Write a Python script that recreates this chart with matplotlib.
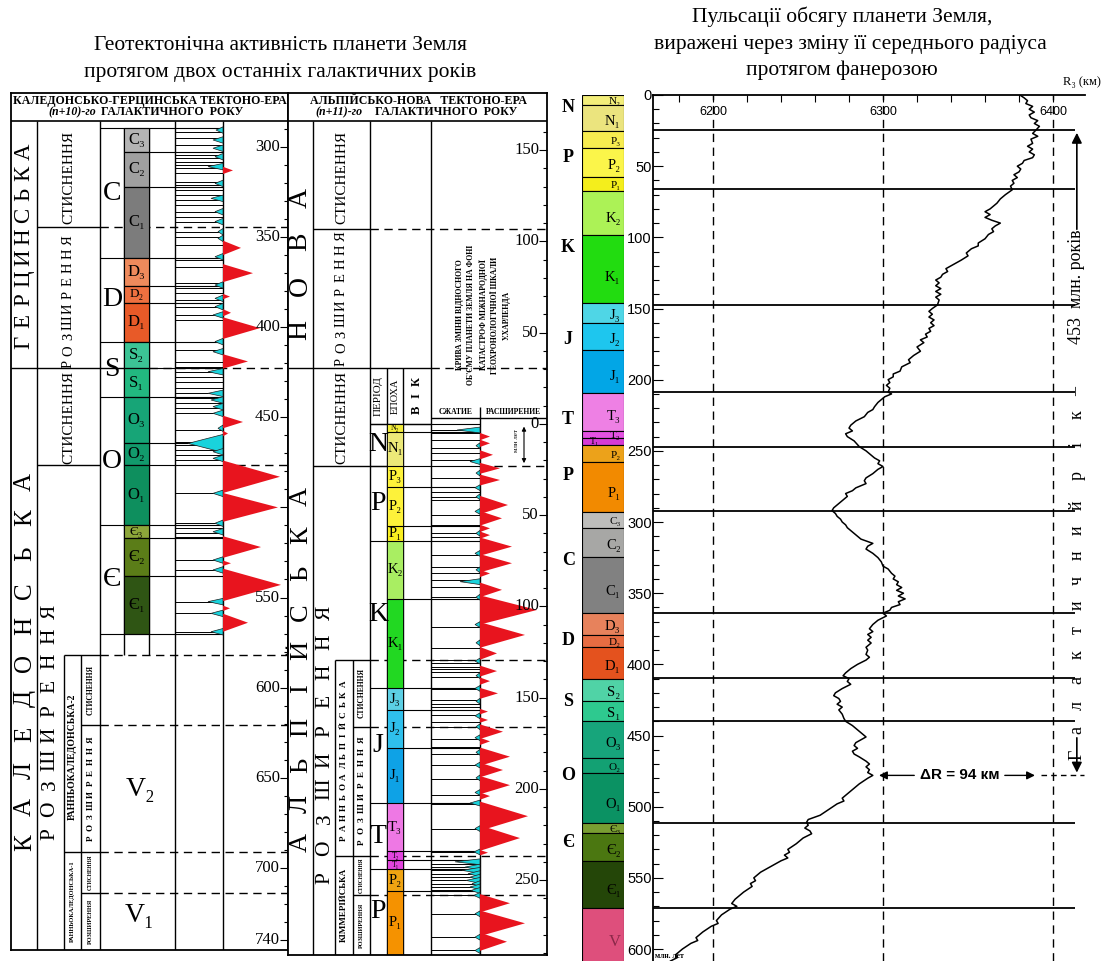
import numpy as np
import matplotlib
matplotlib.use('Agg')
import matplotlib.pyplot as plt

SERIF = ['Liberation Serif', 'DejaVu Serif']
SANS = ['Liberation Sans', 'DejaVu Sans']
plt.rcParams['font.family'] = SERIF

W, H = 1119, 961

# === Ліва таблиця: каледонсько-герцинська тектоно-ера (вік, млн років) ===
L_epochs = ['C₃', 'C₂', 'C₁', 'D₃', 'D₂', 'D₁', 'S₂', 'S₁', 'O₃', 'O₂', 'O₁', 'Є₃', 'Є₂', 'Є₁']
L_bounds = [289.4, 302.8, 322, 361.7, 377, 386.7, 408, 422.8, 439, 464, 476.7, 510, 517, 537.8, 570]
L_colors = ['#b4b4b4', '#a0a0a0', '#7c7c7c', '#ee8a5c', '#ee7040', '#e85a28', '#3cc495',
            '#22b880', '#17a577', '#129a6c', '#0e8f5e', '#8da63a', '#5b7d18', '#2f5514']
L_periods = ['C', 'D', 'S', 'O', 'Є']
L_period_bounds = [289.4, 361.7, 408, 439, 510, 570]
L_phase = [344.4, 422.6, 476.5, 581.9, 620.8, 691.2, 714]
L_tick_labels = [300, 350, 400, 450, 550, 600, 650, 700, 740]

L_red_age = [313, 356, 370, 383, 392, 400.5, 419, 452.6, 459, 483, 500, 522, 531, 543, 556, 564]
L_red_amp = [10, 18, 30, 7, 8, 37, 25, 20, 5, 57, 55, 38, 8, 58, 7, 25]
L_red_hw = [2, 4, 5, 1.5, 2, 6, 4, 3.5, 1.5, 9, 8, 6, 1.5, 9, 1.5, 5]

L_cyan_age = [290.6, 296.1, 300.7, 305.4, 310.9, 320.2, 328.5, 335.9, 341.4, 347,
              350.7, 360.9, 376.6, 384, 388.6, 393.2, 408, 413.6, 424.7, 436.7,
              440.4, 444.1, 447.8, 456.1, 464.5, 469.1, 472.8, 492.2, 508.8, 513.5,
              529.2, 534.7, 552.3, 558.8, 569]
L_cyan_amp = [7, 10, 10, 8, 15, 8, 12, 8, 8, 5, 5, 8, 8, 8, 8, 10, 8, 10, 15, 15,
              12, 10, 10, 5, 35, 10, 10, 10, 8, 10, 10, 10, 15, 12, 12]
L_cyan_hw = [1.8] * 24 + [5] + [1.8] * 10

L_stems = [291.5, 295.2, 298.9, 302.6, 304.4, 306.3, 308.1, 310, 311.8, 314.6, 319.2,
           321.1, 323.9, 326.6, 329.4, 332.2, 335.9, 338.7, 341.4, 347, 349.8, 354.4,
           362.7, 366.4, 375.6, 378.4, 381.2, 384.9, 388.6, 393.2, 396, 408, 412.7,
           419.1, 421.9, 424.7, 427.5, 430.2, 433.9, 436.7, 439.5, 442.2, 445, 447.8,
           457, 463.5, 465.4, 468.1, 470.9, 473.7, 492.2, 508.8, 511.6, 514.4, 516.3,
           529.2, 534.7, 552.3, 558.8, 569]

# === Середня таблиця: альпійсько-нова тектоно-ера (від'ємне = майбутнє) ===
M_epochs = ['N₂', 'N₁', 'P₃', 'P₂', 'P₁', 'K₂', 'K₁', 'J₃', 'J₂', 'J₁', 'T₃', 'T₂', 'T₁', 'P₂', 'P₁']
M_bounds = [0, 4.5, 23.1, 34.6, 56, 64.2, 96, 144.8, 156.8, 177.6, 207.8, 234.1, 239, 244, 256, 291]
M_colors = ['#f2ec3a', '#ece978', '#fdf23a', '#fdf23a', '#f9ee20', '#a9ee62', '#22d822',
            '#5ccfe4', '#2fc0ec', '#0ea2e6', '#ee78e4', '#e245de', '#e245de', '#f0a412', '#f59200']
M_periods = ['N', 'P', 'K', 'J', 'T', 'P']
M_period_bounds = [0, 23.1, 64.2, 144.8, 207.8, 244, 291]
M_phase = [-106.7, -30.6, 23.1, 129.4, 166.1, 236.8, 258.2]
M_ticks = [-150, -100, -50, 0, 50, 100, 150, 200, 250]

M_red_age = [7, 10.7, 17, 24.4, 30.8, 44.5, 51.8, 57.3, 61, 67.3, 76.4, 82, 91, 102, 115.7,
             125.8, 135.5, 141, 147.7, 157.7, 162.3, 168.7, 174, 182.4, 189.7, 198, 204,
             215, 227, 235, 262.7, 273.7, 283.8]
M_red_amp = [10, 10, 13, 20, 20, 28, 22, 10, 10, 32, 32, 10, 22, 57, 45, 17, 17, 10, 18,
             8, 8, 23, 10, 30, 23, 30, 10, 48, 40, 8, 30, 45, 27]
M_red_hw = [2, 2, 2.5, 3, 3, 5, 4, 2, 2, 5, 5, 2, 4, 8, 7, 3.5, 3, 2, 3, 1.5, 1.5, 4, 2,
            5, 4, 5, 2, 8, 7, 1.5, 5, 7, 5]

M_cyan_age = [3.4, 12, 20.7, 27, 35, 40, 48, 60, 71, 80, 86.5, 95, 110, 120, 130, 138, 145,
              152, 160, 166, 172, 180, 187, 194, 202, 207.8, 221.8, 234.6, 240, 242.9,
              244.7, 246.5, 248.4, 250.2, 252, 253.8, 255.7, 258.4, 268.5, 281.3, 288.6]
M_cyan_amp = [23, 4, 10, 4, 5, 4, 5, 4, 5, 4, 20, 4, 5, 4, 5, 4, 5, 4, 5, 4, 5, 4, 5, 4, 5,
              10, 5, 6, 25, 15, 18, 12, 10, 14, 8, 10, 9, 6, 5, 5, 5]
M_cyan_hw = [1.6] * len(M_cyan_age)

M_stems = [3.4, 5.2, 8.9, 13.4, 16.2, 19.8, 29.9, 34.5, 37.2, 39.9, 41.8, 50, 55.5, 60,
           61.8, 71.9, 78.3, 81.9, 85.6, 89.2, 94.7, 111.1, 123, 129.4, 131.2, 133, 134.1,
           135.8, 138.5, 145.1, 151.5, 153.3, 155.2, 159.7, 163.4, 166.1, 172.5, 177.1,
           180.7, 187.1, 194.4, 203.6, 208.1, 221.8, 234.6, 239.2, 241, 242.9, 244.7,
           246.5, 248.4, 250.2, 252, 253.8, 255.7, 258.4, 268.5, 281.3, 288.6]

# === Права частина: середній радіус Землі (км) у фанерозої ===
R_epochs = ['N₂', 'N₁', 'P₃', 'P₂', 'P₁', 'K₂', 'K₁', 'J₃', 'J₂', 'J₁', 'T₃', 'T₂', 'T₁',
            'P₂', 'P₁', 'C₃', 'C₂', 'C₁', 'D₃', 'D₂', 'D₁', 'S₂', 'S₁', 'O₃', 'O₂', 'O₁',
            'Є₃', 'Є₂', 'Є₁', 'V']
R_bounds = [0, 7, 25.3, 37.2, 57.6, 67.4, 98.4, 146, 160, 179, 209.4, 236, 241, 246, 258,
            293, 304, 324.6, 364, 379.4, 387.8, 410, 425.8, 439.8, 465.8, 476.4, 511.5,
            518.5, 538, 571.2, 610]
R_colors = ['#f3ee7a', '#ebe47e', '#f7ec50', '#fbf54a', '#f4ee1c', '#acf256', '#22dc10',
            '#4fd6e6', '#1ec6ee', '#02a6e6', '#ee80e4', '#e452e2', '#d63ad6', '#eca21a',
            '#f28a00', '#bdbdbb', '#a7a7a5', '#818181', '#e7825c', '#e76c42', '#e4521e',
            '#50d3a6', '#2ec98f', '#17a57b', '#13a173', '#0b9263', '#7a9e32', '#4b7711',
            '#244608', '#de4f7c']
R_periods = ['N', 'P', 'K', 'J', 'T', 'P', 'C', 'D', 'S', 'O', 'Є']
R_period_age = [9, 44, 107, 172, 228, 267, 327, 383, 426, 478, 525]
R_cycles = [24.6, 66.3, 147.5, 208.7, 247, 292, 364, 409.6, 440, 511.5, 571]

R_age = [0, 2, 4, 6, 8, 10, 12, 14, 16, 18, 20, 22, 24.6, 27, 29, 31, 34, 36, 38, 40, 42,
         44, 46, 48, 50, 52, 54, 56, 58, 60, 62, 64, 66.6, 70, 73, 76, 78, 80, 82, 84, 86,
         88, 90, 92, 94, 96, 98, 101, 104, 106, 108, 111, 113, 116, 120, 122, 124, 126,
         128, 130, 132, 134, 136, 138, 140, 142, 144, 147.5, 150, 152, 154, 156, 158, 160,
         162, 164, 166, 168, 170, 172, 174, 177, 180, 183, 186, 188, 191, 194, 196, 198,
         200, 202, 204, 206, 208.7, 210, 212, 216, 219, 221, 223, 226, 229, 232, 234, 236,
         238, 240, 243, 247, 250, 252, 255, 257, 259, 261, 263, 266, 269, 271, 273, 276,
         278, 280, 282, 285, 288, 290, 292, 294, 296, 298, 300, 302, 304, 306, 309, 312,
         315, 317, 319, 322, 325, 328, 331, 333, 336, 338, 340, 342, 344, 346, 348, 350,
         352, 354, 356, 358, 360, 362, 364, 366, 369, 372, 375, 377, 379, 381, 383, 385,
         388, 390, 393, 395, 397, 400, 403, 406, 408, 410, 412, 414, 417, 420, 422, 424,
         426, 428, 430, 432, 435, 438, 440, 443, 446, 449, 451, 453, 455, 457, 459, 461,
         463, 465, 468, 470, 472, 474, 476, 478, 480, 484, 488, 492, 494, 496, 498, 502,
         506, 509, 511, 513, 515, 517, 519, 522, 526, 530, 532, 534, 536, 538, 542, 546,
         550, 552, 554, 556, 560, 565, 568, 570, 572, 576, 580, 582, 584, 588, 592, 594,
         596, 600, 604, 606, 608.4]
R_radius = [6380.5, 6383, 6385, 6384, 6388, 6386, 6389, 6386, 6387, 6391, 6389, 6392, 6390,
            6388, 6391, 6387, 6388, 6385, 6388, 6386, 6389, 6388, 6383, 6382, 6379, 6381,
            6380, 6377, 6379, 6376, 6377, 6375, 6376, 6372, 6369, 6367, 6365, 6363, 6360,
            6363, 6360, 6364, 6369, 6366, 6364, 6365, 6362, 6360, 6356, 6356, 6352, 6349,
            6350, 6346, 6340, 6337, 6338, 6335, 6334, 6331, 6333, 6331, 6334, 6331, 6334,
            6331, 6333, 6332, 6329, 6327, 6329, 6327, 6330, 6328, 6330, 6327, 6328, 6325,
            6326, 6322, 6324, 6320, 6322, 6318, 6315, 6316, 6311, 6310, 6306, 6306, 6303,
            6304, 6302, 6304, 6303, 6305, 6301, 6297, 6295, 6294, 6291, 6289, 6284, 6281,
            6280, 6282, 6278, 6279, 6283, 6286, 6290, 6292, 6295, 6298, 6297, 6300, 6297,
            6294, 6290, 6289, 6290, 6284, 6282, 6278, 6279, 6276, 6273, 6271, 6270, 6272,
            6273, 6275, 6276, 6278, 6279, 6281, 6284, 6287, 6294, 6291, 6290, 6294, 6297,
            6299, 6300, 6303, 6305, 6307, 6306, 6309, 6308, 6311, 6308, 6312, 6309, 6313,
            6309, 6310, 6305, 6304, 6300, 6302, 6297, 6294, 6292, 6294, 6291, 6293, 6291,
            6293, 6290, 6291, 6290, 6292, 6290, 6285, 6281, 6278, 6276.5, 6280, 6279, 6281,
            6276, 6272, 6271, 6274, 6275, 6273, 6276, 6274, 6276, 6277, 6278, 6282, 6285,
            6288, 6290, 6287, 6284, 6283, 6285, 6282, 6283, 6286, 6290, 6292, 6290, 6292,
            6291, 6294, 6291, 6286, 6282, 6278, 6276, 6277, 6273, 6268, 6263, 6256, 6255,
            6256, 6254, 6257, 6258, 6253, 6249, 6244, 6245, 6242, 6244, 6240, 6234, 6228,
            6224, 6225, 6222, 6223, 6218, 6213, 6211, 6214, 6210, 6205, 6202, 6203, 6199,
            6194, 6190, 6191, 6187, 6182, 6178, 6179, 6175]
R_grid = [6200, 6300, 6400]


# ---- перетворення піксельного рядка у вік для кожної шкали ----
def Lp(py):
    return 300 + (py - 147) / 1.802


def Mp(py):
    return (py - 423.8) / 1.825


def Rp(py):
    return (py - 95) / 1.4233


fig = plt.figure(figsize=(W / 100, H / 100), dpi=100)


def px_axes(x0, y0, x1, y1):
    return fig.add_axes([x0 / W, 1 - y1 / H, (x1 - x0) / W, (y1 - y0) / H])


def ftext(x, y, s, **kw):
    fig.text(x / W, 1 - y / H, s, **kw)


def spaced(ax, s, x, y_first, y_last, size, **kw):
    # окремі літери, повернуті на 90°, перша літера знизу
    for ch, yy in zip(s, np.linspace(y_first, y_last, len(s))):
        ax.text(x, yy, ch, rotation=90, ha='center', va='center', fontsize=size, **kw)


def rot(ax, x, y, s, size, **kw):
    ax.text(x, y, s, rotation=90, ha='center', va='center', fontsize=size, **kw)


def spikes(ax, base, ages, amps, hws, color, side, ec='none'):
    for a, amp, hw in zip(ages, amps, hws):
        ax.fill([base, base + side * amp, base], [a - hw, a, a + hw],
                fc=color, ec=ec, lw=0.5, zorder=4)


DASH = (0, (6, 4))

# === Заголовки ===
ftext(280, 46, 'Геотектонічна активність планети Земля', ha='center', va='center', fontsize=15.5)
ftext(280, 72, 'протягом двох останніх галактичних років', ha='center', va='center', fontsize=15.5)
ftext(842, 17, 'Пульсації обсягу планети Земля,', ha='center', va='center', fontsize=15.5)
ftext(850, 44, 'виражені через зміну її середнього радіуса', ha='center', va='center', fontsize=15.5)
ftext(842, 70, 'протягом фанерозою', ha='center', va='center', fontsize=15.5)

# =======================
# ===== ЛІВА ТАБЛИЦЯ ====
# =======================
axL = px_axes(11, 93, 288, 950)
axL.set_xlim(11, 288)
axL.set_ylim(Lp(950), Lp(93))
for s in axL.spines.values():
    s.set_linewidth(1.3)
axL.set_xticks([])
axL.yaxis.tick_right()
axL.set_yticks([300, 350, 400, 450, 500, 550, 600, 650, 700, 740])
axL.set_yticks(np.arange(290, 741, 10), minor=True)
axL.tick_params(axis='y', which='both', direction='in', labelright=False, labelleft=False, width=0.8)
axL.tick_params(axis='y', which='major', length=6)
axL.tick_params(axis='y', which='minor', length=3)
for v in L_tick_labels:
    axL.text(280, v, str(v), ha='right', va='center', fontsize=12, zorder=5)

axL.axhline(Lp(121), color='k', lw=1.2)
ftext(150, 101, 'КАЛЕДОНСЬКО-ГЕРЦИНСЬКА ТЕКТОНО-ЕРА', ha='center', va='center',
      fontsize=8.6, fontweight='bold')
ftext(72, 112, '(n+10)-го', ha='center', va='center', fontsize=8.6, fontstyle='italic', fontweight='bold')
ftext(172, 112, 'ГАЛАКТИЧНОГО  РОКУ', ha='center', va='center', fontsize=8.6, fontweight='bold')

axL.vlines([37, 100, 175, 223], Lp(950), Lp(121), color='k', lw=1)
axL.vlines([124, 149], L_bounds[0], L_phase[3], color='k', lw=1)
axL.vlines([64, 81], L_phase[3], Lp(950), color='k', lw=1)

# межі фаз: (суцільна від, до, пунктир від)
L_phase_style = [(37, 100, 100), (11, 124, 149), (37, 100, 223), (64, 100, 100),
                 (81, 100, 100), (64, 100, 100), (81, 100, 100)]
for a, (s0, s1, d0) in zip(L_phase, L_phase_style):
    axL.hlines(a, s0, s1, color='k', lw=1, zorder=3)
    axL.hlines(a, d0, 288, color='k', lw=1, linestyles=DASH, zorder=1)

# колонка епох
L_mid = [(a + b) / 2 for a, b in zip(L_bounds[:-1], L_bounds[1:])]
axL.bar(136.5, np.diff(L_bounds), bottom=L_bounds[:-1], width=25, color=L_colors,
        edgecolor='k', lw=0.8, zorder=2)
for lab, y, h in zip(L_epochs, L_mid, np.diff(L_bounds)):
    axL.text(136.5, y, lab, ha='center', va='center', fontsize=12 if h > 10 else 9.5, zorder=5)
axL.hlines(L_bounds, 124, 223, color='k', lw=0.8, zorder=3)
axL.hlines(L_period_bounds, 100, 124, color='k', lw=0.8, zorder=3)
for lab, a, b in zip(L_periods, L_period_bounds[:-1], L_period_bounds[1:]):
    axL.text(112, (a + b) / 2, lab, ha='center', va='center', fontsize=20)

# крива активності
axL.hlines(L_stems, 175, 223, color='k', lw=0.7, zorder=3)
spikes(axL, 223, L_cyan_age, L_cyan_amp, L_cyan_hw, '#19d3dc', -1, ec='#202020')
spikes(axL, 223, L_red_age, L_red_amp, L_red_hw, '#e8141e', 1)

# написи колонок
spaced(axL, 'ГЕРЦИНСЬКА', 24, Lp(342), Lp(152), 16.5)
spaced(axL, 'КАЛЕДОНСЬКА', 25, Lp(843), Lp(482), 18)
rot(axL, 68.5, Lp(177), 'СТИСНЕННЯ', 11)
spaced(axL, 'РОЗШИРЕННЯ', 68.5, Lp(364), Lp(240), 10.5)
rot(axL, 68.5, Lp(417), 'СТИСНЕННЯ', 11)
spaced(axL, 'РОЗШИРЕННЯ', 50, Lp(834), Lp(612), 15.5)
rot(axL, 72.5, Lp(757), 'РАННЬОКАЛЕДОНСЬКА-2', 7, fontweight='bold')
rot(axL, 72.5, Lp(901), 'РАННЬОКАЛЕДОНСЬКА-1', 4.6, fontweight='bold')
rot(axL, 90.5, Lp(690), 'СТИСНЕННЯ', 5.5, fontweight='bold')
spaced(axL, 'РОЗШИРЕННЯ', 90.5, Lp(838), Lp(740), 6.5, fontweight='bold')
rot(axL, 90.5, Lp(872), 'СТИСНЕННЯ', 4, fontweight='bold')
rot(axL, 90.5, Lp(921), 'РОЗШИРЕННЯ', 4.5, fontweight='bold')
axL.text(140, Lp(790), 'V₂', ha='center', va='center', fontsize=20)
axL.text(140, Lp(915), 'V₁', ha='center', va='center', fontsize=20)

# ==========================
# ===== СЕРЕДНЯ ТАБЛИЦЯ ====
# ==========================
axM = px_axes(288, 93, 547, 955)
axM.set_xlim(288, 547)
axM.set_ylim(Mp(955), Mp(93))
for s in axM.spines.values():
    s.set_linewidth(1.3)
axM.set_xticks([])
axM.yaxis.tick_right()
axM.set_yticks(M_ticks)
axM.set_yticks(np.arange(-160, 291, 10), minor=True)
axM.tick_params(axis='y', which='both', direction='in', labelright=False, labelleft=False, width=0.8)
axM.tick_params(axis='y', which='major', length=6)
axM.tick_params(axis='y', which='minor', length=3)
for v in M_ticks:
    axM.text(539, v, str(abs(v)), ha='right', va='center', fontsize=12, zorder=5)

axM.axhline(Mp(121), color='k', lw=1.2)
ftext(418, 101, 'АЛЬПІЙСЬКО-НОВА   ТЕКТОНО-ЕРА', ha='center', va='center',
      fontsize=8.6, fontweight='bold')
ftext(339, 112, '(n+11)-го', ha='center', va='center', fontsize=8.6, fontstyle='italic', fontweight='bold')
ftext(446, 112, 'ГАЛАКТИЧНОГО  РОКУ', ha='center', va='center', fontsize=8.6, fontweight='bold')

axM.vlines([313, 370, 431], Mp(955), Mp(121), color='k', lw=1)
axM.vlines([387, 403], M_phase[1], Mp(955), color='k', lw=1)
axM.vlines([480], Mp(407), Mp(955), color='k', lw=1)
axM.vlines([335, 353], M_phase[3], Mp(955), color='k', lw=1)
axM.hlines(0, 370, 431, color='k', lw=1)
axM.hlines(Mp(418), 431, 547, color='k', lw=1)

M_phase_style = [(313, 370, 370), (288, 431, 431), (313, 387, 480), (335, 370, 370),
                 (353, 370, 370), (335, 370, 370), (353, 370, 370)]
for a, (s0, s1, d0) in zip(M_phase, M_phase_style):
    axM.hlines(a, s0, s1, color='k', lw=1, zorder=3)
    axM.hlines(a, d0, 547, color='k', lw=1, linestyles=DASH, zorder=1)

M_mid = [(a + b) / 2 for a, b in zip(M_bounds[:-1], M_bounds[1:])]
axM.bar(395, np.diff(M_bounds), bottom=M_bounds[:-1], width=16, color=M_colors,
        edgecolor='k', lw=0.6, zorder=2)
for lab, y, h in zip(M_epochs, M_mid, np.diff(M_bounds)):
    axM.text(395, y, lab, ha='center', va='center', fontsize=10.5 if h > 8 else 5.5, zorder=5)
axM.hlines(M_bounds, 387, 480, color='k', lw=0.8, zorder=3)
axM.hlines(M_period_bounds, 370, 387, color='k', lw=0.8, zorder=3)
for lab, a, b in zip(M_periods, M_period_bounds[:-1], M_period_bounds[1:]):
    axM.text(378, (a + b) / 2, lab, ha='center', va='center', fontsize=20)

axM.hlines(M_stems, 431, 480, color='k', lw=0.7, zorder=3)
spikes(axM, 480, M_cyan_age, M_cyan_amp, M_cyan_hw, '#19d3dc', -1, ec='#202020')
spikes(axM, 480, M_red_age, M_red_amp, M_red_hw, '#e8141e', 1)

spaced(axM, 'НОВА', 300, Mp(330), Mp(198), 20)
spaced(axM, 'АЛЬПІЙСЬКА', 301, Mp(842), Mp(497), 19)
rot(axM, 341.5, Mp(177), 'СТИСНЕННЯ', 11)
spaced(axM, 'РОЗШИРЕННЯ', 341.5, Mp(362), Mp(236), 10.5)
rot(axM, 341.5, Mp(417), 'СТИСНЕННЯ', 11)
spaced(axM, 'РОЗШИРЕННЯ', 325, Mp(878), Mp(613), 15.5)
spaced(axM, 'РАННЬОАЛЬПІЙСЬКА', 344, Mp(838), Mp(684), 6.5, fontweight='bold')
rot(axM, 344, Mp(905), 'КІММЕРІЙСЬКА', 6.5, fontweight='bold')
rot(axM, 361.5, Mp(693), 'СТИСНЕННЯ', 5.5, fontweight='bold')
spaced(axM, 'РОЗШИРЕННЯ', 361.5, Mp(842), Mp(740), 6.5, fontweight='bold')
rot(axM, 361.5, Mp(875), 'СТИСНЕННЯ', 4, fontweight='bold')
rot(axM, 361.5, Mp(925), 'РОЗШИРЕННЯ', 4.5, fontweight='bold')
rot(axM, 378.5, Mp(396), 'ПЕРІОД', 8)
rot(axM, 395, Mp(396), 'ЕПОХА', 7.5)
spaced(axM, 'ВІК', 417, Mp(410), Mp(382), 9, fontweight='bold')
axM.text(455.5, Mp(412.5), 'СЖАТИЕ', ha='center', va='center', fontsize=5.5, fontweight='bold')
axM.text(513.5, Mp(412.5), 'РАСШИРЕНИЕ', ha='center', va='center', fontsize=5.5, fontweight='bold')
axM.text(483, Mp(315), 'КРИВА ЗМІНИ ВІДНОСНОГО\nОБ\'ЄМУ ПЛАНЕТИ ЗЕМЛЯ НА ФОНІ\n'
         'КАТАСТРОФ МІЖНАРОДНОЇ\nГЕОХРОНОЛОГІЧНОЇ ШКАЛИ\nУ.ХАРЛЕНДА',
         rotation=90, ha='center', va='center', multialignment='center',
         fontsize=5.6, fontweight='bold', linespacing=1.55)
axM.annotate('', xy=(524, 0), xytext=(524, 23.1),
             arrowprops=dict(arrowstyle='<|-|>', color='k', lw=0.8, mutation_scale=6))
rot(axM, 517, Mp(441), 'млн лет', 5)

# =======================
# ===== ПРАВА ЧАСТИНА ===
# =======================
axC = px_axes(582, 95, 624, 961)
axC.set_xlim(0, 1)
axC.set_ylim(608.4, 0)
axC.axis('off')
R_h = np.diff(R_bounds)
axC.bar(0.5, R_h, bottom=R_bounds[:-1], width=1, color=R_colors, edgecolor='k', lw=0.8)
for lab, a, h in zip(R_epochs, R_bounds[:-1], R_h):
    if lab == 'T₁':
        axC.text(0.3, a + 0.5 * h, lab, ha='center', va='center', fontsize=7)
    elif lab == 'V':
        axC.text(0.92, a + 0.62 * h, lab, ha='right', va='center', fontsize=12, color='#8a2848')
    else:
        axC.text(0.92, a + 0.62 * h, lab, ha='right', va='center', fontsize=10.5 if h > 12 else 8)
for lab, a in zip(R_periods, R_period_age):
    axC.text(-0.33, a, lab, ha='center', va='center', fontsize=13, fontweight='bold')

axR = px_axes(653, 95, 1085, 961)
axR.set_xlim(6164.7, 6418.8)
axR.set_ylim(608.4, 0)
axR.spines['right'].set_visible(False)
axR.spines['bottom'].set_visible(False)
axR.spines['left'].set_linewidth(1.3)
axR.spines['top'].set_linewidth(1.3)
axR.xaxis.tick_top()
axR.set_xticks(np.arange(6180, 6401, 20))
axR.tick_params(axis='x', direction='in', length=5, labeltop=False, width=0.8)
axR.set_yticks(np.arange(0, 601, 50))
axR.set_yticks(np.arange(0, 601, 10), minor=True)
axR.tick_params(axis='y', which='both', direction='in', width=0.8, pad=1)
axR.tick_params(axis='y', which='major', length=7, labelsize=10.5)
axR.tick_params(axis='y', which='minor', length=4)
for t in axR.get_yticklabels():
    t.set_family(SANS)

for r in R_grid:
    axR.axvline(r, color='k', lw=1, linestyle=DASH)
    axR.text(r, 12, str(r), ha='center', va='center', fontsize=9, family=SANS)
axR.hlines(R_cycles, 6164.7, 6413, color='k', lw=1.3)

axR.plot(R_radius, R_age, color='k', lw=1.1)

# ΔR між максимумом 24.6 млн р. та 478 млн р.
axR.text(6345, 478, 'ΔR = 94 км', ha='center', va='center', fontsize=11,
         family=SANS, fontweight='bold')
axR.annotate('', xy=(6296, 478), xytext=(6320, 478),
             arrowprops=dict(arrowstyle='-|>', color='k', lw=1, mutation_scale=12))
axR.annotate('', xy=(6391, 478), xytext=(6370, 478),
             arrowprops=dict(arrowstyle='-|>', color='k', lw=1, mutation_scale=12))
axR.plot([6393, 6418], [478, 478], color='k', lw=1, linestyle=(0, (4, 3)))

# галактичний рік
axR.annotate('', xy=(6414, 24.6), xytext=(6414, Rp(232)),
             arrowprops=dict(arrowstyle='-|>', color='k', lw=1.2, mutation_scale=15))
axR.annotate('', xy=(6414, 478), xytext=(6414, Rp(735)),
             arrowprops=dict(arrowstyle='-|>', color='k', lw=1.2, mutation_scale=15))
rot(axR, 6414, Rp(287), '453  млн. років', 13)
rot(axR, 6414, Rp(391), '–', 13)
spaced(axR, 'рік', 6414, Rp(475), Rp(415), 13)
spaced(axR, 'Галактичний', 6414, Rp(755), Rp(505), 13)

ftext(1082, 82, 'R₃ (км)', ha='center', va='center', fontsize=9)
ftext(655, 960, 'млн. лет', ha='left', va='bottom', fontsize=5.5, fontweight='bold')

fig.savefig('out.png', dpi=100)
